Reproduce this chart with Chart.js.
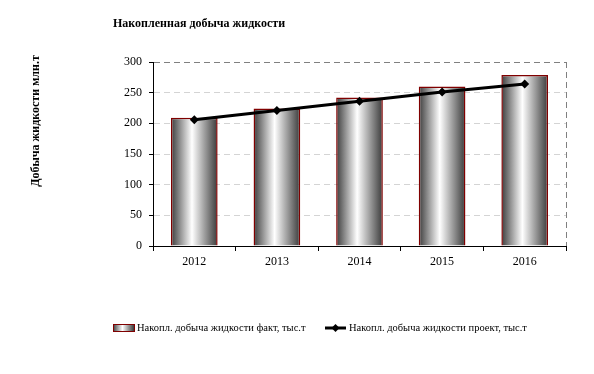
<!DOCTYPE html>
<html>
<head>
<meta charset="utf-8">
<script src="https://cdn.jsdelivr.net/npm/chart.js@4"></script>
<style>
  html, body { margin: 0; padding: 0; background: #fff; }
  #wrap { width: 594px; height: 374px; }
</style>
</head>
<body>
<div id="wrap"><canvas id="myChart" width="594" height="374"></canvas></div>
<script>
const years = ['2012', '2013', '2014', '2015', '2016'];
const factValues = [209, 224, 242, 260, 279];
const projectValues = [206, 221, 236, 251, 264];
const yTicks = [0, 50, 100, 150, 200, 250, 300];

const titleText = 'Накопленная добыча жидкости';
const yTitleText = 'Добыча жидкости млн.т';
const factLabel = 'Накопл. добыча жидкости факт, тыс.т';
const projectLabel = 'Накопл. добыча жидкости проект, тыс.т';

const barPct = 0.565;
const serif = '"Liberation Serif", "Times New Roman", serif';

// shiny cylinder-like fill, one gradient per bar
function barFill(ctx) {
  const chart = ctx.chart;
  const xs = chart.scales.x;
  if (!xs || !chart.chartArea) return '#888';
  const cx = xs.getPixelForValue(ctx.dataIndex);
  const half = (xs.width / years.length) * barPct / 2;
  const g = chart.ctx.createLinearGradient(cx - half, 0, cx + half, 0);
  g.addColorStop(0, '#3c3c3c');
  g.addColorStop(0.45, '#ffffff');
  g.addColorStop(1, '#3a3a3a');
  return g;
}

const textPlugin = {
  id: 'texts',
  beforeDatasetsDraw(chart) {
    // dashed right edge of the plot area
    const a = chart.chartArea;
    const c = chart.ctx;
    c.save();
    c.strokeStyle = '#808080';
    c.lineWidth = 1;
    c.setLineDash([6, 4]);
    c.beginPath();
    c.moveTo(Math.round(a.right) + 0.5, a.top);
    c.lineTo(Math.round(a.right) + 0.5, a.bottom);
    c.stroke();
    c.restore();
  },
  afterDraw(chart) {
    const c = chart.ctx;
    const bars = chart.data.datasets.find(d => d.type === 'bar');
    const line = chart.data.datasets.find(d => d.type === 'line');
    c.save();
    c.fillStyle = '#000';
    c.font = 'bold 12px ' + serif;
    c.textBaseline = 'middle';
    c.textAlign = 'left';
    c.fillText(titleText, 113, 24);

    c.save();
    c.translate(36, 121);
    c.rotate(-Math.PI / 2);
    c.textAlign = 'center';
    c.fillText(yTitleText, 0, 0);
    c.restore();

    // legend
    c.font = '10.5px ' + serif;
    const ly = 328;
    const g = c.createLinearGradient(113, 0, 134, 0);
    g.addColorStop(0, '#3c3c3c');
    g.addColorStop(0.45, '#ffffff');
    g.addColorStop(1, '#3a3a3a');
    c.fillStyle = g;
    c.fillRect(113, ly - 3, 21, 6);
    c.strokeStyle = '#800000';
    c.lineWidth = 1;
    c.strokeRect(113.5, ly - 3.5, 21, 7);
    c.fillStyle = '#000';
    c.fillText(bars.label, 137, ly);

    c.strokeStyle = '#000';
    c.lineWidth = 3;
    c.beginPath();
    c.moveTo(325, ly);
    c.lineTo(346, ly);
    c.stroke();
    c.beginPath();
    c.moveTo(335.5, ly - 4);
    c.lineTo(339.5, ly);
    c.lineTo(335.5, ly + 4);
    c.lineTo(331.5, ly);
    c.closePath();
    c.fill();
    c.fillText(line.label, 349, ly);
    c.restore();
  }
};

new Chart(document.getElementById('myChart'), {
  data: {
    labels: years,
    datasets: [
      {
        type: 'line',
        label: projectLabel,
        data: projectValues,
        borderColor: '#000',
        backgroundColor: '#000',
        borderWidth: 3,
        pointStyle: 'rectRot',
        pointRadius: 4.5,
        pointBorderWidth: 0,
        tension: 0,
        order: 1
      },
      {
        type: 'bar',
        label: factLabel,
        data: factValues,
        backgroundColor: barFill,
        borderColor: '#800000',
        borderWidth: 1.5,
        barPercentage: barPct,
        categoryPercentage: 1,
        order: 2
      }
    ]
  },
  options: {
    responsive: false,
    animation: false,
    layout: { padding: { left: 0, top: 62, right: 28, bottom: 0 } },
    plugins: {
      legend: { display: false },
      title: { display: false },
      tooltip: { enabled: false }
    },
    scales: {
      x: {
        offset: true,
        grid: {
          offset: true,
          drawOnChartArea: false,
          tickColor: '#000',
          tickLength: 5
        },
        border: { color: '#000', width: 1 },
        ticks: { color: '#000', font: { family: serif, size: 12 }, padding: 4, maxRotation: 0 },
        afterFit: (s) => { s.height = 128; }
      },
      y: {
        min: 0,
        max: 300,
        afterBuildTicks: (s) => { s.ticks = yTicks.map(v => ({ value: v })); },
        grid: {
          color: (ctx) => ctx.tick && ctx.tick.value === 300 ? '#808080' : '#d4d4d4',
          tickColor: '#000',
          tickLength: 4,
          tickBorderDash: []
        },
        border: { color: '#000', width: 1, dash: [6, 4] },
        ticks: { color: '#000', font: { family: serif, size: 12 }, padding: 7 },
        afterFit: (s) => { s.width = 153; }
      }
    }
  },
  plugins: [textPlugin]
});
</script>
</body>
</html>
